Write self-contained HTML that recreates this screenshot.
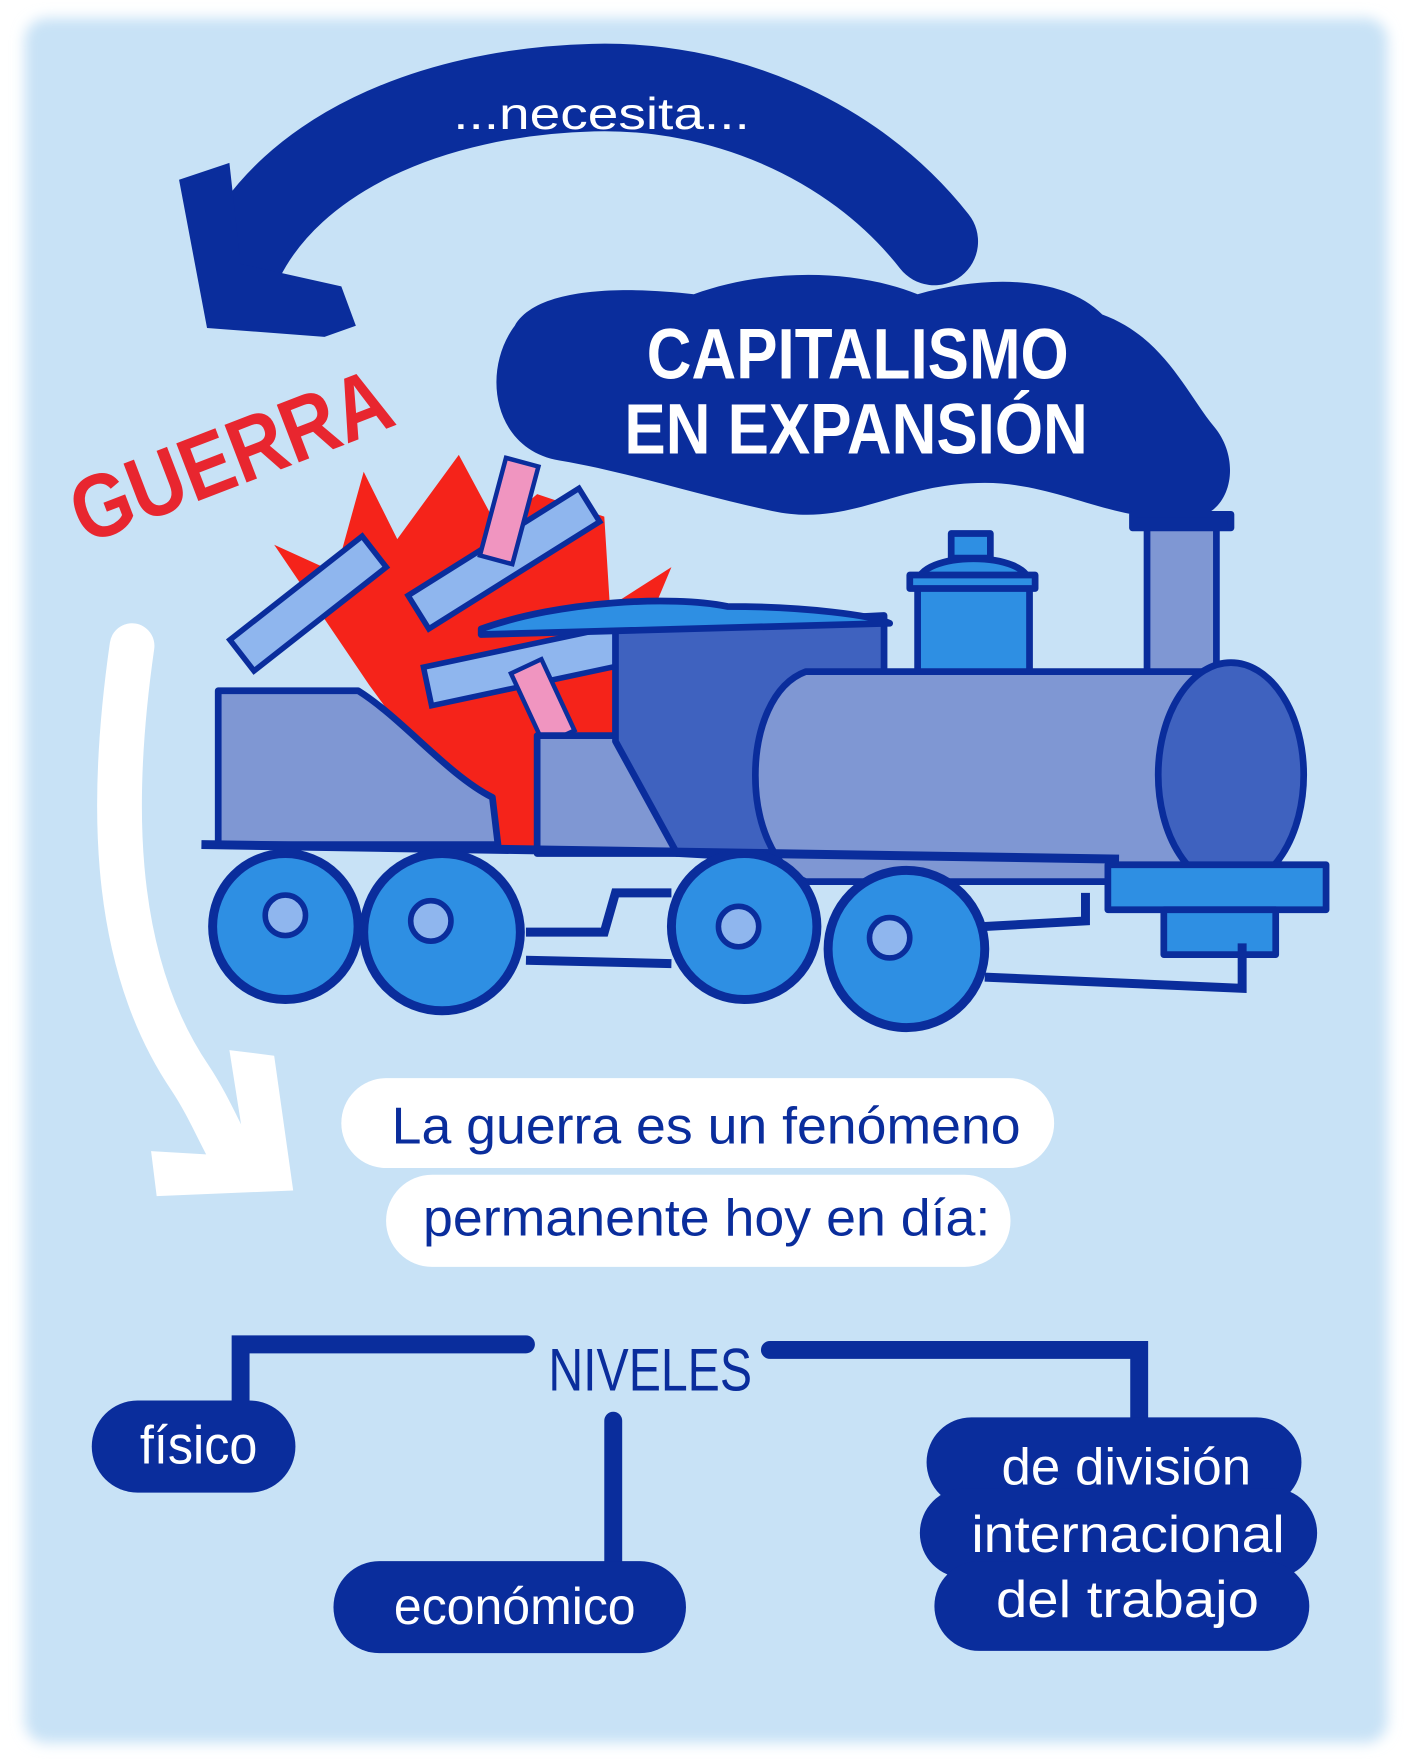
<!DOCTYPE html>
<html><head><meta charset="utf-8"><style>
html,body{margin:0;padding:0;background:#fff;}
svg{display:block;}
</style></head><body>
<svg width="1410" height="1761" viewBox="0 0 1260 1568" preserveAspectRatio="none" xmlns="http://www.w3.org/2000/svg">
<defs><filter id="b" x="-5%" y="-5%" width="110%" height="110%"><feGaussianBlur stdDeviation="6"/></filter></defs>
<rect x="0" y="0" width="1260" height="1568" fill="#fff"/>
<rect x="22" y="16" width="1218" height="1536" rx="20" fill="#c8e2f6" filter="url(#b)"/>

<path d="M835,215 C760,120 640,75 530,78 C380,82 260,140 215,230" fill="none" stroke="#0a2d9c" stroke-width="78" stroke-linecap="round"/>
<path d="M160,160 L205,145 L215,235 L305,255 L318,290 L290,300 L185,292 Z" fill="#0a2d9c"/>
<text x="405" y="115" fill="#fff" font-family="Liberation Sans,sans-serif" font-size="40" textLength="265" lengthAdjust="spacingAndGlyphs">...necesita...</text>

<path d="M460,290 C480,255 560,255 620,262 C680,240 760,238 820,262 C880,245 950,245 985,280 C1040,300 1060,350 1085,380 C1110,410 1100,455 1070,460 C1000,470 950,430 880,430 C800,430 760,470 690,455 C620,440 560,420 500,410 C440,400 430,330 460,290 Z" fill="#0a2d9c"/>
<text x="578" y="337" fill="#fff" font-family="Liberation Sans,sans-serif" font-weight="bold" font-size="64" textLength="377" lengthAdjust="spacingAndGlyphs">CAPITALISMO</text>
<text x="558" y="404" fill="#fff" font-family="Liberation Sans,sans-serif" font-weight="bold" font-size="64" textLength="414" lengthAdjust="spacingAndGlyphs">EN EXPANSIÓN</text>

<text x="0" y="0" fill="#e8262f" font-family="Liberation Sans,sans-serif" font-weight="bold" font-size="80" textLength="300" lengthAdjust="spacingAndGlyphs" transform="translate(76,485) rotate(-21)">GUERRA</text>

<path d="M245,485 L300,510 L325,420 L355,480 L410,405 L445,470 L480,440 L540,460 L545,540 L600,505 L560,600 L540,760 L440,760 L330,610 Z" fill="#f5231a"/>
<g stroke="#0a2d9c" stroke-width="5" fill="#8fb6ee">
<rect x="200" y="520" width="150" height="35" transform="rotate(-38 275 537)"/>
<rect x="360" y="480" width="180" height="35" transform="rotate(-32 450 497)"/>
<rect x="380" y="575" width="180" height="35" transform="rotate(-12 470 592)"/>
</g>
<g stroke="#0a2d9c" stroke-width="4" fill="#f095c0">
<rect x="440" y="410" width="30" height="90" transform="rotate(15 455 455)"/>
<rect x="470" y="590" width="30" height="70" transform="rotate(-25 485 625)"/>
</g>

<g stroke="#0a2d9c" stroke-width="6" stroke-linejoin="round">
<path d="M195,615 L320,615 C360,640 400,690 440,710 L445,752 L195,752 Z" fill="#7f97d3"/>
<path d="M480,655 L605,655 L605,760 L480,760 Z" fill="#7f97d3"/>
<path d="M550,560 L790,548 L790,770 L605,760 L550,660 Z" fill="#3f62bf"/>
<path d="M430,560 C500,535 600,530 650,540 C720,540 780,548 795,555 L430,565 Z" fill="#2e8fe3"/>
<rect x="1025" y="465" width="62" height="140" fill="#7f97d3"/>
<rect x="1012" y="458" width="88" height="12" fill="#0a2d9c"/>
<path d="M820,520 C820,490 920,490 920,520 L920,600 L820,600 Z" fill="#2e8fe3"/>
<rect x="813" y="512" width="112" height="12" fill="#2e8fe3"/>
<rect x="850" y="475" width="35" height="22" fill="#2e8fe3"/>
<path d="M720,598 L1100,598 L1100,785 L720,785 C660,760 660,620 720,598 Z" fill="#7f97d3"/>
<ellipse cx="1100" cy="690" rx="65" ry="100" fill="#3f62bf"/>
<rect x="990" y="770" width="195" height="40" fill="#2e8fe3"/>
<rect x="1040" y="810" width="100" height="40" fill="#2e8fe3"/>
</g>
<path d="M180,752 L1000,765" stroke="#0a2d9c" stroke-width="8"/>
<path d="M470,830 L540,830 L550,795 L600,795 M470,855 L600,858 M880,825 L970,820 L970,795 M880,870 L1110,880 L1110,840" fill="none" stroke="#0a2d9c" stroke-width="8"/>
<g stroke="#0a2d9c" stroke-width="8" fill="#2e8fe3">
<circle cx="255" cy="825" r="65"/>
<circle cx="395" cy="830" r="70"/>
<circle cx="665" cy="825" r="65"/>
<circle cx="810" cy="845" r="70"/>
</g>
<g stroke="#0a2d9c" stroke-width="5" fill="#8fb6ee">
<circle cx="255" cy="815" r="18"/><circle cx="385" cy="820" r="18"/><circle cx="660" cy="825" r="18"/><circle cx="795" cy="835" r="18"/>
</g>

<path d="M118,575 C100,700 95,850 170,960 C190,990 200,1020 215,1040" fill="none" stroke="#fff" stroke-width="40" stroke-linecap="round"/>
<path d="M135,1025 L220,1030 L205,935 L245,940 L262,1060 L140,1065 Z" fill="#fff"/>

<rect x="305" y="960" width="637" height="80" rx="40" fill="#fff"/>
<rect x="345" y="1046" width="558" height="82" rx="41" fill="#fff"/>
<text x="350" y="1018" fill="#0a2d9c" font-family="Liberation Sans,sans-serif" font-size="46" textLength="562" lengthAdjust="spacingAndGlyphs">La guerra es un fenómeno</text>
<text x="378" y="1100" fill="#0a2d9c" font-family="Liberation Sans,sans-serif" font-size="46" textLength="507" lengthAdjust="spacingAndGlyphs">permanente hoy en día:</text>

<text x="490" y="1238" fill="#0a2d9c" font-family="Liberation Sans,sans-serif" font-size="54" textLength="182" lengthAdjust="spacingAndGlyphs">NIVELES</text>
<path d="M470,1197 L215,1197 L215,1255 M688,1202 L1018,1202 L1018,1265 M548,1265 L548,1395" fill="none" stroke="#0a2d9c" stroke-width="16" stroke-linecap="round"/>
<rect x="82" y="1247" width="182" height="82" rx="41" fill="#0a2d9c"/>
<text x="125" y="1303" fill="#fff" font-family="Liberation Sans,sans-serif" font-size="48" textLength="105" lengthAdjust="spacingAndGlyphs">físico</text>
<rect x="298" y="1390" width="315" height="82" rx="41" fill="#0a2d9c"/>
<text x="352" y="1446" fill="#fff" font-family="Liberation Sans,sans-serif" font-size="46" textLength="216" lengthAdjust="spacingAndGlyphs">económico</text>
<rect x="828" y="1262" width="335" height="80" rx="40" fill="#0a2d9c"/>
<rect x="822" y="1325" width="355" height="80" rx="40" fill="#0a2d9c"/>
<rect x="835" y="1390" width="335" height="80" rx="40" fill="#0a2d9c"/>
<text x="895" y="1322" fill="#fff" font-family="Liberation Sans,sans-serif" font-size="46" textLength="223" lengthAdjust="spacingAndGlyphs">de división</text>
<text x="868" y="1382" fill="#fff" font-family="Liberation Sans,sans-serif" font-size="46" textLength="280" lengthAdjust="spacingAndGlyphs">internacional</text>
<text x="890" y="1440" fill="#fff" font-family="Liberation Sans,sans-serif" font-size="46" textLength="235" lengthAdjust="spacingAndGlyphs">del trabajo</text>
</svg>
</body></html>
